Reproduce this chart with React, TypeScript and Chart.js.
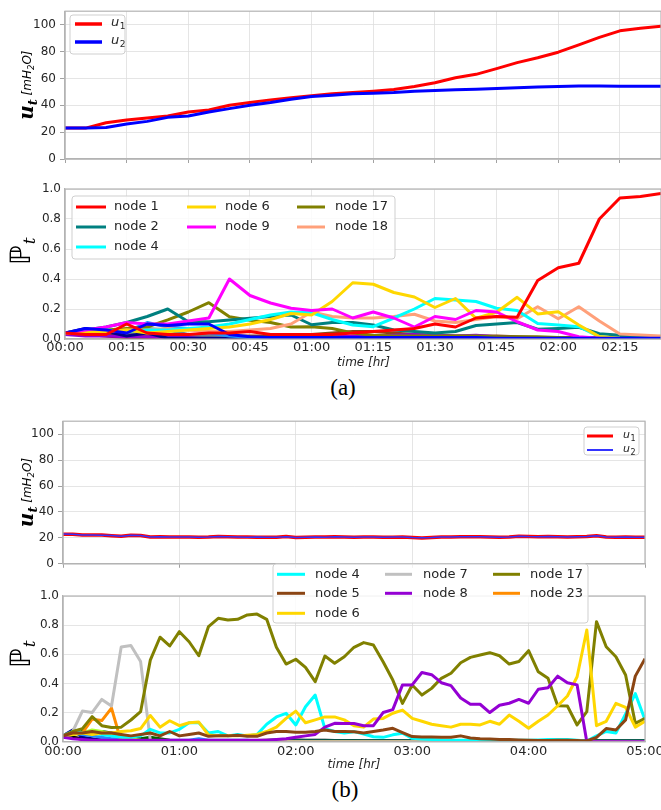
import React, { useEffect, useRef } from "react";
import { Chart, registerables } from "chart.js";
Chart.register(...registerables);

// ---------------- data : panel (a) ----------------
const timeA = [0, 5, 10, 15, 20, 25, 30, 35, 40, 45, 50, 55, 60, 65, 70, 75, 80, 85, 90, 95, 100, 105, 110, 115, 120, 125, 130, 135, 140, 145];
const u1A = [23, 23, 27, 29, 30.5, 32, 35, 36.5, 40, 42, 44, 45.5, 47, 48.5, 49.5, 50.5, 51.7, 54, 56.8, 60.5, 63, 67.3, 71.7, 75.4, 79.5, 85, 90.5, 95.4, 97.3, 98.8];
const u2A = [23, 23, 23.5, 26, 28, 31, 32, 35, 37.5, 40, 42, 44.5, 46.5, 47.5, 48.5, 49, 49.5, 50.5, 51, 51.5, 52, 52.5, 53, 53.5, 54, 54.3, 54.3, 54.2, 54.2, 54.2];
const node1A = [0.04, 0.03, 0.03, 0.1, 0.04, 0.03, 0.03, 0.04, 0.04, 0.05, 0.03, 0.03, 0.03, 0.03, 0.04, 0.05, 0.06, 0.07, 0.1, 0.08, 0.14, 0.15, 0.145, 0.39, 0.475, 0.505, 0.8, 0.94, 0.95, 0.97];
const node2A = [0.04, 0.06, 0.08, 0.11, 0.15, 0.2, 0.115, 0.115, 0.127, 0.138, 0.15, 0.16, 0.095, 0.11, 0.11, 0.093, 0.06, 0.05, 0.04, 0.05, 0.09, 0.1, 0.11, 0.065, 0.07, 0.078, 0.035, 0.025, 0.02, 0.013];
const node4A = [0.04, 0.06, 0.06, 0.05, 0.06, 0.06, 0.07, 0.08, 0.1, 0.13, 0.16, 0.18, 0.175, 0.13, 0.093, 0.082, 0.14, 0.2, 0.27, 0.26, 0.25, 0.205, 0.19, 0.104, 0.093, 0.082, 0.015, 0.005, 0, 0];
const node6A = [0.04, 0.05, 0.05, 0.06, 0.04, 0.05, 0.06, 0.07, 0.08, 0.1, 0.13, 0.17, 0.16, 0.25, 0.375, 0.365, 0.31, 0.28, 0.21, 0.27, 0.138, 0.178, 0.278, 0.167, 0.182, 0.093, 0.016, 0.005, 0, 0];
const node9A = [0.04, 0.06, 0.08, 0.11, 0.1, 0.1, 0.12, 0.14, 0.4, 0.29, 0.24, 0.205, 0.19, 0.2, 0.14, 0.18, 0.14, 0.08, 0.15, 0.13, 0.19, 0.18, 0.115, 0.06, 0.05, 0.015, 0.005, 0, 0, 0];
const node17A = [0.04, 0.06, 0.06, 0.07, 0.08, 0.127, 0.18, 0.242, 0.149, 0.125, 0.11, 0.08, 0.082, 0.07, 0.04, 0.025, 0.02, 0.02, 0.02, 0.02, 0.02, 0.015, 0.015, 0.015, 0.01, 0.01, 0.01, 0.01, 0.01, 0.01];
const node18A = [0.04, 0.04, 0.05, 0.06, 0.06, 0.07, 0.06, 0.05, 0.05, 0.06, 0.07, 0.1, 0.18, 0.15, 0.14, 0.14, 0.15, 0.165, 0.12, 0.11, 0.13, 0.15, 0.135, 0.215, 0.135, 0.215, 0.12, 0.033, 0.027, 0.02];
const otherBlueA = [0.04, 0.07, 0.06, 0.04, 0.1, 0.09, 0.1, 0.1, 0.03, 0.015, 0.01, 0.01, 0.01, 0.01, 0.01, 0.01, 0.01, 0.01, 0.01, 0.01, 0.01, 0.005, 0.005, 0.005, 0.005, 0.005, 0.005, 0.005, 0.005, 0.005];
const otherNavyA = [0.04, 0.07, 0.05, 0.02, 0.04, 0.005, 0.005, 0.005, 0.004, 0.004, 0.003, 0.003, 0.003, 0.003, 0.003, 0.003, 0.003, 0.003, 0.003, 0.003, 0.003, 0.003, 0.002, 0.002, 0.002, 0.002, 0.002, 0.002, 0.002, 0.002];
const otherDodgerA = [0.04, 0.05, 0.06, 0.05, 0.11, 0.08, 0.07, 0.04, 0.02, 0.01, 0.01, 0.01, 0.01, 0.01, 0.008, 0.008, 0.008, 0.008, 0.008, 0.008, 0.008, 0.005, 0.005, 0.005, 0.005, 0.005, 0.005, 0.005, 0.005, 0.005];
const otherSlateA = [0.04, 0.05, 0.06, 0.03, 0.07, 0.06, 0.03, 0.02, 0.015, 0.01, 0.01, 0.01, 0.01, 0.01, 0.01, 0.01, 0.01, 0.01, 0.01, 0.01, 0.01, 0.01, 0.01, 0.01, 0.01, 0.01, 0.005, 0.005, 0.005, 0.005];
const otherPurpleA = [0.03, 0.02, 0.02, 0.015, 0.015, 0.01, 0.01, 0.01, 0.01, 0.01, 0.01, 0.01, 0.01, 0.015, 0.02, 0.02, 0.025, 0.03, 0.025, 0.02, 0.025, 0.015, 0.01, 0.01, 0.005, 0.005, 0.003, 0.003, 0.003, 0.003];
const otherBrownA = [0.04, 0.03, 0.03, 0.03, 0.02, 0.02, 0.02, 0.02, 0.02, 0.02, 0.02, 0.025, 0.03, 0.04, 0.05, 0.05, 0.04, 0.03, 0.025, 0.02, 0.02, 0.02, 0.015, 0.01, 0.01, 0.01, 0.005, 0.005, 0.005, 0.005];
const otherMaroonA = [0.04, 0.03, 0.02, 0.01, 0.008, 0.006, 0.005, 0.005, 0.005, 0.005, 0.005, 0.005, 0.005, 0.005, 0.005, 0.005, 0.005, 0.005, 0.005, 0.005, 0.005, 0.005, 0.005, 0.005, 0.005, 0.005, 0.005, 0.005, 0.005, 0.005];

// ---------------- data : panel (b) ----------------
const timeB = [0, 5, 10, 15, 20, 25, 30, 35, 40, 45, 50, 55, 60, 65, 70, 75, 80, 85, 90, 95, 100, 105, 110, 115, 120, 125, 130, 135, 140, 145, 150, 155, 160, 165, 170, 175, 180, 185, 190, 195, 200, 205, 210, 215, 220, 225, 230, 235, 240, 245, 250, 255, 260, 265, 270, 275, 280, 285, 290, 295, 300];
const u1B = [22.8, 22.8, 22.2, 22.3, 22.2, 21.7, 21.2, 22.0, 21.9, 20.6, 20.8, 20.7, 20.7, 20.6, 20.4, 20.6, 21.1, 20.9, 20.7, 20.6, 20.5, 20.4, 20.5, 21.0, 20.3, 20.4, 20.6, 20.6, 20.8, 20.6, 20.5, 20.6, 20.6, 20.5, 20.5, 20.6, 20.2, 19.9, 20.2, 20.6, 20.7, 20.8, 20.8, 20.8, 20.7, 20.5, 20.6, 21.3, 21.0, 20.8, 21.1, 20.9, 20.6, 20.8, 21.0, 21.7, 20.6, 20.4, 20.7, 20.4, 20.5];
const u2B = [22.9, 22.7, 22.2, 22.3, 22.1, 21.8, 21.2, 22.0, 21.8, 20.7, 20.8, 20.7, 20.6, 20.7, 20.4, 20.6, 21.0, 20.9, 20.7, 20.5, 20.6, 20.4, 20.5, 20.9, 20.3, 20.5, 20.6, 20.5, 20.8, 20.6, 20.4, 20.6, 20.6, 20.5, 20.6, 20.6, 20.2, 20.0, 20.2, 20.6, 20.7, 20.8, 20.9, 20.8, 20.7, 20.5, 20.6, 21.3, 21.0, 20.9, 21.1, 20.9, 20.6, 20.8, 21.0, 21.6, 20.6, 20.4, 20.7, 20.4, 20.5];
const node4B = [
  0.04, 0.07, 0.06, 0.06, 0.05, 0.04, 0.03, 0.03, 0.04, 0.085,
  0.06, 0.06, 0.085, 0.13, 0.13, 0.06, 0.07, 0.04, 0.05, 0.04,
  0.05, 0.12, 0.17, 0.195, 0.115, 0.24, 0.32, 0.09, 0.07, 0.06,
  0.069, 0.053, 0.034, 0.03, 0.047, 0.058, 0.023, 0.018, 0.015, 0.012,
  0.01, 0.01, 0.01, 0.008, 0.008, 0.008, 0.008, 0.01, 0.01, 0.012,
  0.015, 0.015, 0.015, 0.01, 0.005, 0.04, 0.07, 0.06, 0.19, 0.33, 0.15];
const node5B = [
  0.04, 0.06, 0.06, 0.07, 0.06, 0.06, 0.05, 0.04, 0.05, 0.06,
  0.04, 0.07, 0.04, 0.05, 0.06, 0.037, 0.04, 0.04, 0.045, 0.037,
  0.037, 0.06, 0.07, 0.07, 0.065, 0.065, 0.07, 0.08, 0.07, 0.07,
  0.069, 0.06, 0.07, 0.08, 0.092, 0.063, 0.035, 0.033, 0.033, 0.03,
  0.03, 0.04, 0.025, 0.02, 0.018, 0.015, 0.015, 0.012, 0.01, 0.008,
  0.008, 0.01, 0.01, 0.008, 0.005, 0.03, 0.09, 0.08, 0.15, 0.45, 0.57];
const node6B = [
  0.04, 0.05, 0.06, 0.05, 0.06, 0.06, 0.07, 0.075, 0.09, 0.18,
  0.1, 0.144, 0.11, 0.13, 0.135, 0.046, 0.04, 0.04, 0.04, 0.045,
  0.05, 0.07, 0.1, 0.16, 0.21, 0.13, 0.15, 0.17, 0.17, 0.15,
  0.11, 0.1, 0.155, 0.16, 0.195, 0.217, 0.16, 0.14, 0.12, 0.11,
  0.1, 0.12, 0.12, 0.115, 0.14, 0.12, 0.183, 0.14, 0.092, 0.14,
  0.183, 0.247, 0.314, 0.446, 0.767, 0.11, 0.14, 0.263, 0.235, 0.1, 0.14];
const node7B = [
  0.04, 0.07, 0.21, 0.2, 0.29, 0.245, 0.65, 0.66, 0.55, 0.01,
  0.005, 0, 0, 0, 0, 0, 0, 0, 0, 0,
  0, 0, 0, 0, 0, 0, 0, 0, 0, 0,
  0, 0, 0, 0, 0, 0, 0, 0, 0, 0,
  0, 0, 0, 0, 0, 0, 0, 0, 0, 0,
  0, 0, 0, 0, 0, 0, 0, 0, 0, 0, 0];
const node8B = [
  0.03, 0.02, 0.015, 0.01, 0.01, 0.01, 0.01, 0.01, 0.01, 0.01,
  0.01, 0.01, 0.01, 0.01, 0.01, 0.01, 0.01, 0.01, 0.01, 0.01,
  0.01, 0.01, 0.015, 0.02, 0.03, 0.04, 0.05, 0.1, 0.126, 0.125,
  0.125, 0.11, 0.11, 0.2, 0.22, 0.39, 0.39, 0.475, 0.46, 0.405,
  0.385, 0.3, 0.257, 0.257, 0.2, 0.25, 0.264, 0.29, 0.264, 0.36,
  0.37, 0.45, 0.405, 0.39, 0, 0, 0, 0, 0, 0, 0];
const node17B = [
  0.04, 0.07, 0.09, 0.172, 0.11, 0.097, 0.1, 0.149, 0.206, 0.56,
  0.717, 0.657, 0.755, 0.686, 0.59, 0.79, 0.847, 0.835, 0.84, 0.87,
  0.876, 0.84, 0.648, 0.533, 0.566, 0.51, 0.412, 0.588, 0.538, 0.583,
  0.648, 0.68, 0.664, 0.549, 0.423, 0.263, 0.389, 0.32, 0.366, 0.435,
  0.47, 0.542, 0.579, 0.595, 0.611, 0.59, 0.533, 0.55, 0.625, 0.48,
  0.435, 0.247, 0.245, 0.115, 0.206, 0.824, 0.652, 0.583, 0.458, 0.126, 0.16];
const node23B = [
  0.04, 0.06, 0.06, 0.155, 0.145, 0.23, 0, 0, 0, 0,
  0, 0, 0, 0, 0, 0, 0, 0, 0, 0,
  0, 0, 0, 0, 0, 0, 0, 0, 0, 0,
  0, 0, 0, 0, 0, 0, 0, 0, 0, 0,
  0, 0, 0, 0, 0, 0, 0, 0, 0, 0,
  0, 0, 0, 0, 0, 0, 0, 0, 0, 0, 0];
const otherNavyB = [
  0.04, 0.08, 0.03, 0.02, 0.01, 0.01, 0.005, 0.005, 0.005, 0.005,
  0.003, 0.003, 0.003, 0.003, 0.003, 0.003, 0.003, 0.003, 0.003, 0.003,
  0.003, 0.003, 0.003, 0.003, 0.003, 0.003, 0.003, 0.003, 0.003, 0.003,
  0.003, 0.003, 0.003, 0.003, 0.003, 0.003, 0.003, 0.003, 0.003, 0.003,
  0.003, 0.003, 0.003, 0.003, 0.003, 0.003, 0.003, 0.003, 0.003, 0.003,
  0.003, 0.003, 0.003, 0.003, 0.003, 0.003, 0.003, 0.003, 0.003, 0.003, 0.003];
const otherBlueB = [
  0.04, 0.06, 0.05, 0.04, 0.03, 0.02, 0.02, 0.015, 0.01, 0.01,
  0.01, 0.01, 0.01, 0.01, 0.02, 0.01, 0.01, 0.01, 0.01, 0.01,
  0.005, 0.005, 0.005, 0.005, 0.005, 0.005, 0.005, 0.005, 0.005, 0.005,
  0.005, 0.005, 0.005, 0.005, 0.005, 0.005, 0.005, 0.005, 0.005, 0.005,
  0.005, 0.005, 0.005, 0.005, 0.005, 0.005, 0.005, 0.005, 0.005, 0.005,
  0.005, 0.005, 0.005, 0.005, 0.005, 0.005, 0.005, 0.005, 0.005, 0.005, 0.005];
const otherLimeB = [
  0.04, 0.05, 0.06, 0.08, 0.07, 0.05, 0.03, 0.02, 0.01, 0.005,
  0, 0, 0, 0, 0, 0, 0, 0, 0, 0,
  0, 0, 0, 0, 0, 0, 0, 0, 0, 0,
  0, 0, 0, 0, 0, 0, 0, 0, 0, 0,
  0, 0, 0, 0, 0, 0, 0, 0, 0, 0,
  0, 0, 0, 0, 0, 0, 0, 0, 0, 0, 0];
const otherGreenB = [
  0.04, 0.05, 0.07, 0.06, 0.07, 0.06, 0.04, 0.03, 0.02, 0.03,
  0.02, 0.01, 0.008, 0.006, 0.005, 0.005, 0.005, 0.005, 0.005, 0.005,
  0.004, 0.004, 0.004, 0.004, 0.004, 0.004, 0.004, 0.004, 0.004, 0.004,
  0.004, 0.004, 0.004, 0.004, 0.004, 0.004, 0.004, 0.004, 0.004, 0.004,
  0.004, 0.004, 0.004, 0.004, 0.004, 0.004, 0.004, 0.004, 0.004, 0.004,
  0.004, 0.004, 0.004, 0.004, 0.004, 0.004, 0.004, 0.004, 0.004, 0.004, 0.004];
const otherBlackB = [
  0.04, 0.03, 0.02, 0.015, 0.01, 0.01, 0.01, 0.01, 0.01, 0.01,
  0.008, 0.008, 0.008, 0.008, 0.008, 0.008, 0.008, 0.008, 0.008, 0.008,
  0.008, 0.01, 0.012, 0.012, 0.012, 0.01, 0.01, 0.01, 0.008, 0.008,
  0.008, 0.006, 0.006, 0.006, 0.006, 0.006, 0.006, 0.006, 0.006, 0.006,
  0.006, 0.006, 0.006, 0.006, 0.006, 0.006, 0.006, 0.006, 0.006, 0.006,
  0.006, 0.006, 0.006, 0.006, 0.006, 0.006, 0.006, 0.006, 0.006, 0.006, 0.006];
const otherFirebrickB = [
  0.04, 0.03, 0.015, 0.005, 0.003, 0.003, 0.003, 0.003, 0.003, 0.003,
  0.003, 0.003, 0.003, 0.003, 0.003, 0.003, 0.003, 0.003, 0.003, 0.003,
  0.003, 0.003, 0.003, 0.003, 0.003, 0.003, 0.003, 0.003, 0.003, 0.003,
  0.003, 0.003, 0.003, 0.003, 0.003, 0.003, 0.003, 0.003, 0.003, 0.003,
  0.003, 0.003, 0.003, 0.003, 0.003, 0.003, 0.003, 0.003, 0.003, 0.003,
  0.003, 0.003, 0.003, 0.003, 0.003, 0.003, 0.003, 0.003, 0.003, 0.003, 0.003];

// ---------------- styling ----------------
const GRID = "#dedede";
const FRAME = "#b3b3b3";
const TXT = "#262626";
const SANS = "'DejaVu Sans', sans-serif";
const SERIF = "'DejaVu Serif', serif";

function hhmm(v: number) {
  const h = Math.floor(v / 60);
  const m = Math.round(v - h * 60);
  return String(h).padStart(2, "0") + ":" + String(m).padStart(2, "0");
}

function line(xs: number[], ys: number[], color: string, width: number) {
  return {
    data: xs.map((x, i) => ({ x, y: ys[i] })),
    borderColor: color,
    backgroundColor: color,
    borderWidth: width,
    pointRadius: 0,
    tension: 0,
    fill: false,
    borderJoinStyle: "round",
  };
}

function roundBox(ctx: CanvasRenderingContext2D, x: number, y: number, w: number, h: number, r: number) {
  ctx.beginPath();
  ctx.moveTo(x + r, y);
  ctx.lineTo(x + w - r, y);
  ctx.arcTo(x + w, y, x + w, y + r, r);
  ctx.lineTo(x + w, y + h - r);
  ctx.arcTo(x + w, y + h, x + w - r, y + h, r);
  ctx.lineTo(x + r, y + h);
  ctx.arcTo(x, y + h, x, y + h - r, r);
  ctx.lineTo(x, y + r);
  ctx.arcTo(x, y, x + r, y, r);
  ctx.closePath();
  ctx.fillStyle = "rgba(255,255,255,0.85)";
  ctx.fill();
  ctx.strokeStyle = "#cfcfcf";
  ctx.lineWidth = 1;
  ctx.stroke();
}

function drawFrame(chart: any) {
  const { ctx, chartArea: a } = chart;
  ctx.save();
  ctx.strokeStyle = FRAME;
  ctx.lineWidth = 1.2;
  ctx.strokeRect(a.left, a.top, a.right - a.left, a.bottom - a.top);
  ctx.restore();
}

function drawUTitle(chart: any, bx: number) {
  const { ctx, chartArea: a } = chart;
  ctx.save();
  ctx.fillStyle = "#000";
  ctx.textBaseline = "alphabetic";
  ctx.textAlign = "left";
  const parts: [string, string, number][] = [
    ["u", "bold italic 20px " + SERIF, 0],
    ["t", "bold italic 13px " + SERIF, 4],
    [" ", "12px " + SANS, 0],
    ["[mH", "italic 12px " + SANS, -2],
    ["2", "italic 8.5px " + SANS, 1],
    ["O]", "italic 12px " + SANS, -2],
  ];
  let total = 0;
  const widths = parts.map(([t, f]) => {
    ctx.font = f;
    const w = ctx.measureText(t).width;
    total += w;
    return w;
  });
  const cy = (a.top + a.bottom) / 2;
  ctx.translate(bx, cy + total / 2);
  ctx.rotate(-Math.PI / 2);
  let x = 0;
  parts.forEach(([t, f, dy], i) => {
    ctx.font = f;
    ctx.fillText(t, x, dy);
    x += widths[i];
  });
  ctx.restore();
}

function drawPTitle(ctx: CanvasRenderingContext2D, bx: number, by: number) {
  ctx.save();
  ctx.fillStyle = "#000";
  ctx.textBaseline = "alphabetic";
  ctx.textAlign = "left";
  ctx.translate(bx, by);
  ctx.rotate(-Math.PI / 2);
  ctx.font = "28px " + SANS;
  ctx.fillText("\u2119", 0, 0);
  const w = ctx.measureText("\u2119").width;
  ctx.font = "italic 17px " + SERIF;
  ctx.fillText("t", w + 1, 5);
  ctx.restore();
}

function drawXTitle(ctx: CanvasRenderingContext2D, cx: number, cy: number) {
  ctx.save();
  ctx.fillStyle = TXT;
  ctx.font = "italic 12px " + SANS;
  ctx.textAlign = "center";
  ctx.textBaseline = "middle";
  ctx.fillText("time [hr]", cx, cy);
  ctx.restore();
}

type ULeg = { color: string; width: number; sub: string; y: number };
function drawULegend(ctx: CanvasRenderingContext2D, box: number[], rows: ULeg[], sx0: number, sx1: number, tx: number, fs: number) {
  ctx.save();
  roundBox(ctx, box[0], box[1], box[2] - box[0], box[3] - box[1], 3);
  rows.forEach((r) => {
    ctx.strokeStyle = r.color;
    ctx.lineWidth = r.width;
    ctx.beginPath();
    ctx.moveTo(sx0, r.y);
    ctx.lineTo(sx1, r.y);
    ctx.stroke();
    ctx.fillStyle = TXT;
    ctx.textBaseline = "middle";
    ctx.textAlign = "left";
    ctx.font = "italic " + fs + "px " + SANS;
    ctx.fillText("u", tx, r.y - 1);
    const w = ctx.measureText("u").width;
    ctx.font = Math.round(fs * 0.72) + "px " + SANS;
    ctx.fillText(r.sub, tx + w + 0.5, r.y + 3);
  });
  ctx.restore();
}

type NLeg = { label: string; color: string; col: number; row: number };
function drawNodeLegend(ctx: CanvasRenderingContext2D, box: number[], items: NLeg[], colSample: number[][], colText: number[], rowY: number[]) {
  ctx.save();
  roundBox(ctx, box[0], box[1], box[2] - box[0], box[3] - box[1], 3);
  items.forEach((it) => {
    const [s0, s1] = colSample[it.col];
    const y = rowY[it.row];
    ctx.strokeStyle = it.color;
    ctx.lineWidth = 3;
    ctx.beginPath();
    ctx.moveTo(s0, y);
    ctx.lineTo(s1, y);
    ctx.stroke();
    ctx.fillStyle = TXT;
    ctx.font = "13px " + SANS;
    ctx.textBaseline = "middle";
    ctx.textAlign = "left";
    ctx.fillText(it.label, colText[it.col], y);
  });
  ctx.restore();
}

type Area = { left: number; top: number; right: number; bottom: number };
type PanelOpts = {
  w: number; h: number; area: Area;
  xMax: number; xStep: number; xLabels: boolean; xMarks: boolean; xPad: number;
  yMax: number; yStep: number; yDigits: number; yMarks: boolean; yPad: number;
  datasets: any[]; deco: (chart: any) => void;
};

function panel(o: PanelOpts): any {
  return {
    type: "line",
    data: { datasets: o.datasets },
    options: {
      responsive: false,
      animation: false,
      devicePixelRatio: 1,
      events: [],
      layout: { padding: { left: 0, top: o.area.top, right: o.w - o.area.right, bottom: 0 } },
      plugins: { legend: { display: false }, tooltip: { enabled: false } },
      scales: {
        x: {
          type: "linear",
          min: 0,
          max: o.xMax,
          afterFit: (s: any) => { s.height = o.h - o.area.bottom; },
          ticks: {
            stepSize: o.xStep,
            autoSkip: false,
            maxRotation: 0,
            minRotation: 0,
            includeBounds: false,
            padding: o.xPad,
            color: TXT,
            font: { family: SANS, size: 13 },
            callback: (v: number) => (o.xLabels ? hhmm(v) : ""),
          },
          grid: { color: GRID, lineWidth: 0.8, drawTicks: o.xMarks, tickLength: 4, tickColor: "#8a8a8a" },
          border: { display: true, color: FRAME, width: 1.2 },
        },
        y: {
          type: "linear",
          min: 0,
          max: o.yMax,
          afterFit: (s: any) => { s.width = o.area.left; },
          ticks: {
            stepSize: o.yStep,
            includeBounds: false,
            padding: o.yPad,
            color: TXT,
            font: { family: SANS, size: 12 },
            callback: (v: number) => v.toFixed(o.yDigits),
          },
          grid: { color: GRID, lineWidth: 0.8, drawTicks: o.yMarks, tickLength: 5, tickColor: "#8a8a8a" },
          border: { display: true, color: FRAME, width: 1.2 },
        },
      },
    },
    plugins: [
      {
        id: "deco",
        afterDraw: (chart: any) => {
          drawFrame(chart);
          o.deco(chart);
        },
      },
    ],
  };
}

// -------- panel configs --------
function cfgAU() {
  return panel({
    w: 700, h: 175, area: { left: 65, top: 8, right: 661, bottom: 159 },
    xMax: 145, xStep: 15, xLabels: false, xMarks: true, xPad: 0,
    yMax: 110, yStep: 20, yDigits: 0, yMarks: true, yPad: 4,
    datasets: [line(timeA, u2A, "#0000ff", 3), line(timeA, u1A, "#ff0000", 3)],
    deco: (chart) => {
      drawUTitle(chart, 33);
      drawULegend(chart.ctx, [70, 15, 125, 54], [
        { color: "#ff0000", width: 3.5, sub: "1", y: 24 },
        { color: "#0000ff", width: 3.5, sub: "2", y: 42 },
      ], 75, 102, 111, 13);
    },
  });
}

function cfgAP() {
  return panel({
    w: 700, h: 200, area: { left: 65, top: 19, right: 661, bottom: 169 },
    xMax: 145, xStep: 15, xLabels: true, xMarks: false, xPad: 1,
    yMax: 1.0, yStep: 0.2, yDigits: 1, yMarks: false, yPad: 4,
    datasets: [
      line(timeA, node1A, "#ff0000", 3),
      line(timeA, otherBlueA, "#0000ff", 3),
      line(timeA, node9A, "#ff00ff", 3),
      line(timeA, node6A, "#ffd700", 3),
      line(timeA, node4A, "#00ffff", 3),
      line(timeA, node18A, "#ffa07a", 3),
      line(timeA, node2A, "#008080", 3),
      line(timeA, node17A, "#808000", 3),
      line(timeA, otherDodgerA, "#1e90ff", 3),
      line(timeA, otherNavyA, "#00008b", 3),
      line(timeA, otherSlateA, "#708090", 3),
      line(timeA, otherPurpleA, "#9400d3", 3),
      line(timeA, otherBrownA, "#8b4513", 3),
      line(timeA, otherMaroonA, "#800000", 3),
    ],
    deco: (chart) => {
      const ctx = chart.ctx;
      drawPTitle(ctx, 30, 95);
      drawXTitle(ctx, 363.5, 193);
      drawNodeLegend(ctx, [72, 26, 395, 89], [
        { label: "node 1", color: "#ff0000", col: 0, row: 0 },
        { label: "node 2", color: "#008080", col: 0, row: 1 },
        { label: "node 4", color: "#00ffff", col: 0, row: 2 },
        { label: "node 6", color: "#ffd700", col: 1, row: 0 },
        { label: "node 9", color: "#ff00ff", col: 1, row: 1 },
        { label: "node 17", color: "#808000", col: 2, row: 0 },
        { label: "node 18", color: "#ffa07a", col: 2, row: 1 },
      ], [[76, 106], [187, 216], [297, 325]], [114, 225, 335], [37, 57, 77]);
    },
  });
}

function cfgBU() {
  return panel({
    w: 700, h: 165, area: { left: 63, top: 10.5, right: 645, bottom: 156.7 },
    xMax: 300, xStep: 60, xLabels: false, xMarks: true, xPad: 0,
    yMax: 110, yStep: 20, yDigits: 0, yMarks: true, yPad: 4,
    datasets: [line(timeB, u2B, "#3333ff", 1.5), line(timeB, u1B, "#ff0000", 3.5)],
    deco: (chart) => {
      drawUTitle(chart, 33);
      drawULegend(chart.ctx, [584, 17, 639, 45], [
        { color: "#ff0000", width: 3, sub: "1", y: 26 },
        { color: "#3333ff", width: 2, sub: "2", y: 40 },
      ], 587, 613, 623, 11);
    },
  });
}

function cfgBP() {
  return panel({
    w: 700, h: 220, area: { left: 63, top: 41, right: 645, bottom: 186.7 },
    xMax: 300, xStep: 60, xLabels: true, xMarks: false, xPad: 2,
    yMax: 1.0, yStep: 0.2, yDigits: 1, yMarks: false, yPad: 4,
    datasets: [
      line(timeB, node5B, "#8b4513", 3),
      line(timeB, node8B, "#9400d3", 3),
      line(timeB, node6B, "#ffd700", 3),
      line(timeB, node17B, "#808000", 3),
      line(timeB, node4B, "#00ffff", 3),
      line(timeB, node7B, "#c0c0c0", 3),
      line(timeB, node23B, "#ff8c00", 3),
      line(timeB, otherLimeB, "#adff2f", 3),
      line(timeB, otherGreenB, "#006400", 3),
      line(timeB, otherBlueB, "#1e90ff", 3),
      line(timeB, otherNavyB, "#00008b", 3),
      line(timeB, otherBlackB, "#000000", 3),
      line(timeB, otherFirebrickB, "#b22222", 3),
    ],
    deco: (chart) => {
      const ctx = chart.ctx;
      drawPTitle(ctx, 30, 113);
      drawXTitle(ctx, 354, 210);
      drawNodeLegend(ctx, [273, 9, 588, 68], [
        { label: "node 4", color: "#00ffff", col: 0, row: 0 },
        { label: "node 5", color: "#8b4513", col: 0, row: 1 },
        { label: "node 6", color: "#ffd700", col: 0, row: 2 },
        { label: "node 7", color: "#c0c0c0", col: 1, row: 0 },
        { label: "node 8", color: "#9400d3", col: 1, row: 1 },
        { label: "node 17", color: "#808000", col: 2, row: 0 },
        { label: "node 23", color: "#ff8c00", col: 2, row: 1 },
      ], [[277, 305], [385, 412], [493, 520]], [315, 423, 530], [19.3, 38.3, 58.3]);
    },
  });
}

export default function App() {
  const rAU = useRef<HTMLCanvasElement>(null);
  const rAP = useRef<HTMLCanvasElement>(null);
  const rBU = useRef<HTMLCanvasElement>(null);
  const rBP = useRef<HTMLCanvasElement>(null);

  useEffect(() => {
    const charts = [
      new Chart(rAU.current as HTMLCanvasElement, cfgAU()),
      new Chart(rAP.current as HTMLCanvasElement, cfgAP()),
      new Chart(rBU.current as HTMLCanvasElement, cfgBU()),
      new Chart(rBP.current as HTMLCanvasElement, cfgBP()),
    ];
    return () => charts.forEach((c) => c.destroy());
  }, []);

  const abs = (top: number) => ({ position: "absolute" as const, left: 0, top });
  return (
    <div style={{ position: "absolute", left: 0, top: 0, width: 661, height: 810, overflow: "hidden", background: "#fff" }}>
      <canvas ref={rAU} width={700} height={175} style={abs(0)} />
      <canvas ref={rAP} width={700} height={200} style={abs(170)} />
      <canvas ref={rBU} width={700} height={165} style={abs(410)} />
      <canvas ref={rBP} width={700} height={220} style={abs(555)} />
      <div style={{ position: "absolute", left: 313, top: 375, width: 60, textAlign: "center", font: "23px 'Liberation Serif', serif", lineHeight: "26px", color: "#000" }}>(a)</div>
      <div style={{ position: "absolute", left: 315, top: 777, width: 60, textAlign: "center", font: "23px 'Liberation Serif', serif", lineHeight: "26px", color: "#000" }}>(b)</div>
    </div>
  );
}
